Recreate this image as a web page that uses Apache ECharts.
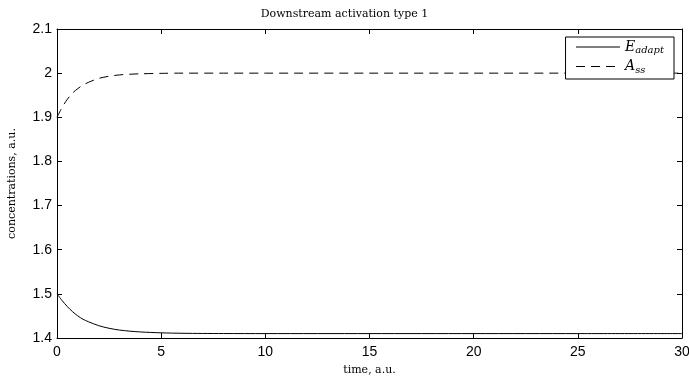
<!DOCTYPE html>
<html><head><meta charset="utf-8">
<script src="https://cdn.jsdelivr.net/npm/echarts@6/dist/echarts.min.js"></script>
<style>html,body{margin:0;padding:0;background:#fff}#c{width:689px;height:383px}</style>
</head><body><div id="c"></div>
<script>
const timeE = [0,0.25,0.5,0.75,1,1.25,1.5,2,2.5,3,3.5,4,5,6,7,8,10,15,20,25,30];
const valE  = [1.5,1.4845,1.471,1.4595,1.450,1.4425,1.437,1.428,1.422,1.418,1.4155,1.4137,1.4117,1.4107,1.4103,1.4101,1.410,1.410,1.410,1.410,1.410];
const timeA = [0,0.25,0.5,0.75,1,1.25,1.5,2,2.5,3,3.5,4,5,6,8,10,15,20,25,30];
const valA  = [1.9,1.923,1.941,1.955,1.965,1.973,1.979,1.988,1.993,1.996,1.9975,1.9985,1.9995,2.0,2.0,2.0,2.0,2.0,2.0,2.0];
const xTicks = [0,5,10,15,20,25,30];
const yTicks = [1.4,1.5,1.6,1.7,1.8,1.9,2.0,2.1];

const chart = echarts.init(document.getElementById('c'), null, {renderer:'canvas'});
const serif = '"DejaVu Serif", "Liberation Serif", serif';
const sans = '"Liberation Sans", Arial, sans-serif';
const axisCommon = {
  axisLine:{show:true,onZero:false,lineStyle:{color:'#000',width:1}},
  axisTick:{show:true,inside:true,length:5,lineStyle:{color:'#000'}},
  splitLine:{show:false}
};
chart.setOption({
  animation:false,
  backgroundColor:'#fff',
  title:{text:'Downstream activation type 1',left:'center',top:4,
    textStyle:{fontFamily:serif,fontSize:11,fontWeight:'normal',color:'#000'}},
  grid:{left:57,right:7,top:29,bottom:45,containLabel:false,outerBoundsMode:'none'},
  legend:{
    right:15,top:37,orient:'vertical',
    backgroundColor:'#fff',borderColor:'#000',borderWidth:1,padding:[3,10,4,10],
    itemWidth:44,itemHeight:15,itemGap:4,
    itemStyle:{opacity:0,borderWidth:0},
    lineStyle:{width:1},
    data:['E','A'],
    formatter:function(n){return n==='E'?'{m|E}{s|adapt}':'{m|A}{s|ss}';},
    textStyle:{rich:{
      m:{fontFamily:serif,fontStyle:'italic',fontSize:14,color:'#000'},
      s:{fontFamily:serif,fontStyle:'italic',fontSize:10,color:'#000',verticalAlign:'bottom',padding:[7,0,0,0]}
    }}
  },
  xAxis:[
    Object.assign({type:'value',min:0,max:30,interval:5,position:'bottom',
      name:'time, a.u.',nameLocation:'middle',nameGap:27,
      nameTextStyle:{fontFamily:serif,fontSize:11,color:'#000'},
      axisLabel:{fontFamily:sans,fontSize:14,color:'#000',margin:7,
        customValues:xTicks}},axisCommon),
    Object.assign({type:'value',min:0,max:30,interval:5,position:'top',axisLabel:{show:false}},axisCommon)
  ],
  yAxis:[
    Object.assign({type:'value',min:1.4,max:2.1,interval:0.1,position:'left',
      name:'concentrations, a.u.',nameLocation:'middle',nameGap:39,
      nameTextStyle:{fontFamily:serif,fontSize:11,color:'#000'},
      axisLabel:{fontFamily:sans,fontSize:14,color:'#000',margin:5,
        formatter:function(v){return String(Math.round(v*10)/10);}}},axisCommon),
    Object.assign({type:'value',min:1.4,max:2.1,interval:0.1,position:'right',axisLabel:{show:false}},axisCommon)
  ],
  series:[
    {name:'E',type:'line',smooth:0.3,symbol:'none',
     data:timeE.map((t,i)=>[t,valE[i]]),
     lineStyle:{color:'#000',width:1,type:'solid'},itemStyle:{color:'#000'}},
    {name:'A',type:'line',smooth:0.3,symbol:'none',
     data:timeA.map((t,i)=>[t,valA[i]]),
     lineStyle:{color:'#000',width:1,type:[9,6]},itemStyle:{color:'#000'}}
  ]
});
</script></body></html>
